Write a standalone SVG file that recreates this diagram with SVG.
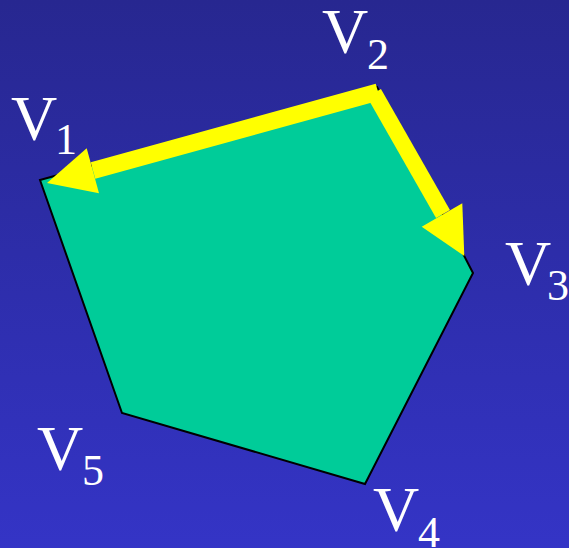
<svg xmlns="http://www.w3.org/2000/svg" width="569" height="548" viewBox="0 0 569 548">
  <defs>
    <linearGradient id="bg" x1="0" y1="0" x2="0" y2="1">
      <stop offset="0" stop-color="#272790"/>
      <stop offset="1" stop-color="#3434c6"/>
    </linearGradient>
    <style>
      .poly { fill: #00cc99; stroke: #000000; stroke-width: 2; stroke-linejoin: miter; }
      .shaft { stroke: #ffff00; fill: none; stroke-linecap: butt; }
      .head { fill: #ffff00; stroke: none; }
      .lbl { font-family: "Liberation Serif", "Times New Roman", serif; fill: #ffffff; font-size: 64px; }
      .sub { font-size: 44px; }
    </style>
  </defs>
  <rect x="0" y="0" width="569" height="548" fill="url(#bg)"/>

  <g id="polygon">
    <polygon class="poly" points="40,180 377,87 473,273 365,484 122,413"/>
  </g>

  <g id="connectors">
    <g id="edge-v2-v1">
      <line class="shaft" x1="378" y1="92" x2="93" y2="170.5" stroke-width="17"/>
      <polygon class="head" points="47,183 86.7,148.3 99,193.3"/>
    </g>
    <g id="edge-v2-v3">
      <line class="shaft" x1="374" y1="93" x2="443" y2="214" stroke-width="16"/>
      <polygon class="head" points="464.3,256 421.7,226.7 462.3,203.3"/>
    </g>
  </g>

  <g id="v1">
    <text class="lbl" x="11" y="140">V<tspan class="sub" x="55" y="154">1</tspan></text>
  </g>
  <g id="v2">
    <text class="lbl" x="322" y="53">V<tspan class="sub" x="367" y="69">2</tspan></text>
  </g>
  <g id="v3">
    <text class="lbl" x="505" y="285">V<tspan class="sub" x="547" y="300">3</tspan></text>
  </g>
  <g id="v4">
    <text class="lbl" x="373" y="531">V<tspan class="sub" x="418" y="547">4</tspan></text>
  </g>
  <g id="v5">
    <text class="lbl" x="37" y="470">V<tspan class="sub" x="82" y="485">5</tspan></text>
  </g>
</svg>
